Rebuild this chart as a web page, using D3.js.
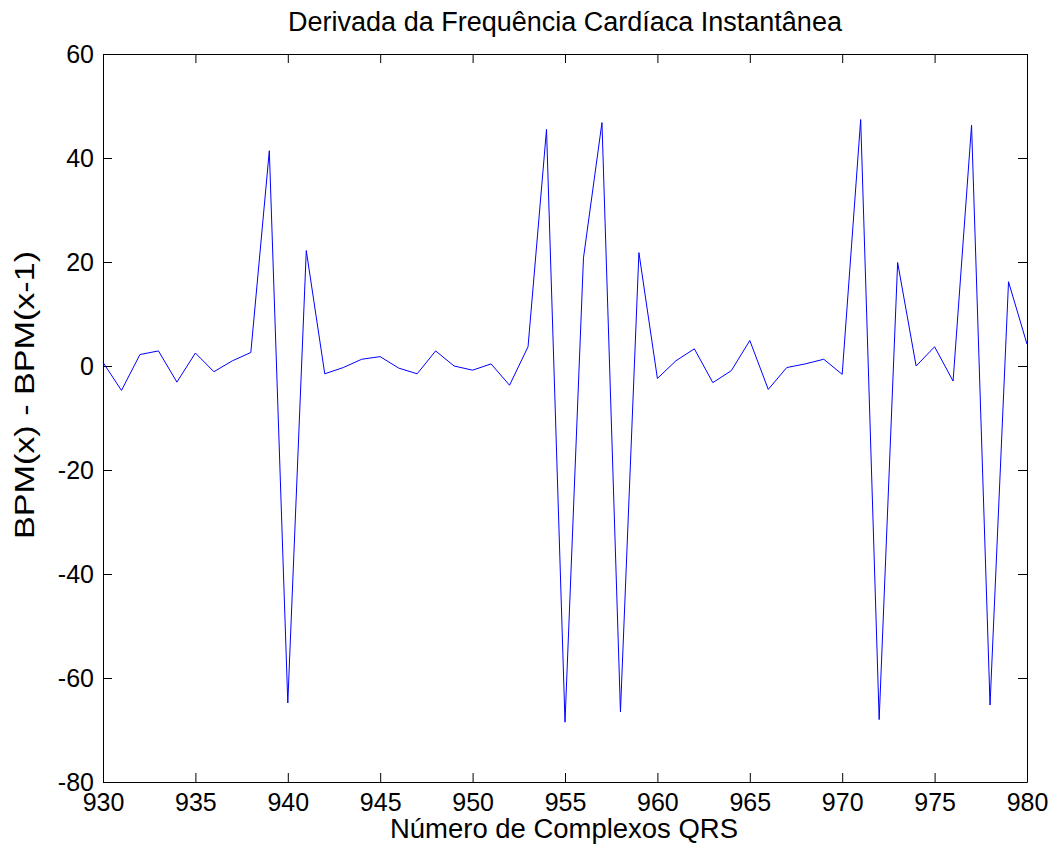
<!DOCTYPE html>
<html>
<head>
<meta charset="utf-8">
<script src="https://cdn.jsdelivr.net/npm/d3@7"></script>
<style>
  html, body { margin: 0; padding: 0; background: #fff; }
  svg { display: block; }
  text { font-family: "Liberation Sans", Arial, Helvetica, sans-serif; fill: #000; }
</style>
</head>
<body>
<svg id="chart" width="1059" height="857"></svg>
<script>
// QRS complex index
const complexos = d3.range(930, 981);
// Difference of instantaneous heart rate between consecutive beats (BPM)
const derivada = [
  0.7, -4.7, 2.2, 2.9, -3.1, 2.5, -1.1, 1.0, 2.6, 41.4,
  -64.8, 22.2, -1.5, -0.3, 1.3, 1.8, -0.4, -1.5, 2.9, 0.0,
  -0.8, 0.4, -3.7, 3.7, 45.5, -68.5, 20.8, 46.8, -66.5, 21.8,
  -2.4, 1.0, 3.3, -3.2, -0.9, 4.9, -4.5, -0.3, 0.4, 1.3,
  -1.6, 47.4, -68.0, 19.9, 0.0, 3.7, -2.9, 46.3, -65.2, 16.2,
  4.2
];
const xTicks = [930, 935, 940, 945, 950, 955, 960, 965, 970, 975, 980];
const yTicks = [-80, -60, -40, -20, 0, 20, 40, 60];

const titulo = "Derivada da Frequência Cardíaca Instantânea";
const rotuloX = "Número de Complexos QRS";
const rotuloY = "BPM(x) - BPM(x-1)";

const svg = d3.select("#chart");
const margin = { left: 103, right: 1059 - 1027, top: 54, bottom: 857 - 782 };
const W = 1059 - margin.left - margin.right;
const H = 857 - margin.top - margin.bottom;

const x = d3.scaleLinear().domain([930, 980]).range([0, W]);
const y = d3.scaleLinear().domain([-80, 60]).range([H, 0]);

const g = svg.append("g").attr("transform", `translate(${margin.left},${margin.top})`);

const tickLen = 9;
const tickFs = 25;
const labelFs = 27;
// plain hyphen for negative tick labels
const fmt = d => String(d);

// Bottom axis with labels, ticks pointing inward
const xAxis = g.append("g").attr("transform", `translate(0,${H})`)
  .call(d3.axisBottom(x).tickValues(xTicks).tickFormat(fmt)
    .tickSizeInner(-tickLen).tickSizeOuter(0).tickPadding(11));
// Top axis (box), inward ticks, no labels
const xTop = g.append("g")
  .call(d3.axisTop(x).tickValues(xTicks).tickFormat("")
    .tickSizeInner(-tickLen).tickSizeOuter(0));
// Left axis with labels
const yAxis = g.append("g")
  .call(d3.axisLeft(y).tickValues(yTicks).tickFormat(fmt)
    .tickSizeInner(-tickLen).tickSizeOuter(0).tickPadding(9));
// Right axis (box)
const yRight = g.append("g").attr("transform", `translate(${W},0)`)
  .call(d3.axisRight(y).tickValues(yTicks).tickFormat("")
    .tickSizeInner(-tickLen).tickSizeOuter(0));

[xAxis, xTop, yAxis, yRight].forEach(a => {
  a.select(".domain").attr("stroke", "#000").attr("stroke-width", 1);
  a.selectAll(".tick line").attr("stroke", "#000").attr("stroke-width", 1);
  a.selectAll(".tick text").attr("font-size", tickFs)
    .attr("font-family", "Liberation Sans, Arial, sans-serif").attr("fill", "#000");
});
xAxis.selectAll(".tick text").attr("dy", "0.71em");

// Data line
const line = d3.line()
  .x((d, i) => x(complexos[i]))
  .y(d => y(d));

g.append("path")
  .datum(derivada)
  .attr("fill", "none")
  .attr("stroke", "#0000ff")
  .attr("stroke-width", 1)
  .attr("d", line);

// Title and axis labels
svg.append("text")
  .attr("x", margin.left + W / 2).attr("y", 31)
  .attr("text-anchor", "middle").attr("font-size", labelFs)
  .text(titulo);

svg.append("text")
  .attr("x", margin.left + W / 2 - 1).attr("y", 838)
  .attr("text-anchor", "middle").attr("font-size", labelFs)
  .attr("textLength", 348).attr("lengthAdjust", "spacingAndGlyphs")
  .text(rotuloX);

svg.append("text")
  .attr("transform", `translate(34,395) rotate(-90)`)
  .attr("text-anchor", "middle").attr("font-size", labelFs)
  .attr("textLength", 288).attr("lengthAdjust", "spacingAndGlyphs")
  .text(rotuloY);
</script>
</body>
</html>
